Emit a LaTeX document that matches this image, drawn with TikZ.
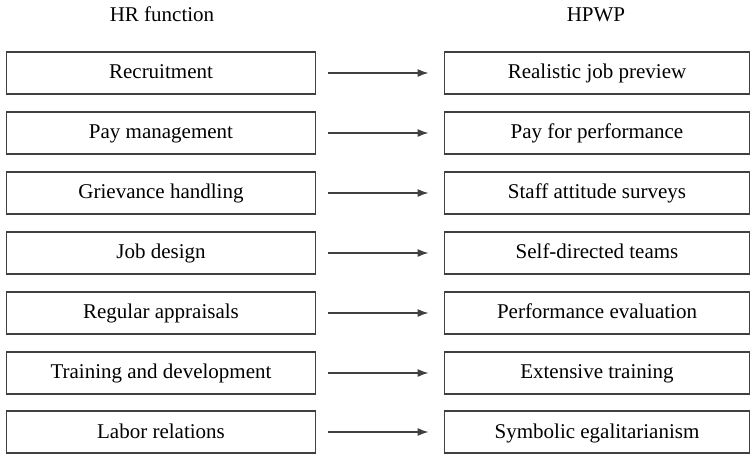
\documentclass[tikz,border=0pt]{standalone}
\usepackage{fontspec}
\setmainfont{Liberation Serif}
\usetikzlibrary{arrows.meta,positioning}

\begin{document}
\begin{tikzpicture}[x=1pt,y=-1pt,
  fun/.style={draw=black!75,line width=1.6pt,minimum width=309pt,minimum height=42pt,inner sep=0pt,
    text height=13.5pt,text depth=1.5pt,font=\fontsize{21}{24}\selectfont},
  prac/.style={fun,minimum width=305pt},
  head/.style={text height=13.5pt,text depth=1.5pt,font=\fontsize{21}{24}\selectfont},
  link/.style={-{Latex[length=11pt,width=8pt]},line width=1.7pt,draw=black!75,shorten <=11.5pt,shorten >=15pt}]
  \useasboundingbox (0,0) rectangle (750,454);

  \node[head] (hf) at (162,16) {HR function};
  \node[head] (hp) at (596,16) {HPWP};

  \node[fun] (f1) at (161,73) {Recruitment};
  \node[fun] (f2) at (161,133) {Pay management};
  \node[fun] (f3) at (161,193) {Grievance handling};
  \node[fun] (f4) at (161,253) {Job design};
  \node[fun] (f5) at (161,313) {Regular appraisals};
  \node[fun] (f6) at (161,373) {Training and development};
  \node[fun] (f7) at (161,432) {Labor relations};

  \node[prac] (p1) at (597,73) {Realistic job preview};
  \node[prac] (p2) at (597,133) {Pay for performance};
  \node[prac] (p3) at (597,193) {Staff attitude surveys};
  \node[prac] (p4) at (597,253) {Self-directed teams};
  \node[prac] (p5) at (597,313) {Performance evaluation};
  \node[prac] (p6) at (597,373) {Extensive training};
  \node[prac] (p7) at (597,432) {Symbolic egalitarianism};

  \draw[link] (f1) -- (p1);
  \draw[link] (f2) -- (p2);
  \draw[link] (f3) -- (p3);
  \draw[link] (f4) -- (p4);
  \draw[link] (f5) -- (p5);
  \draw[link] (f6) -- (p6);
  \draw[link] (f7) -- (p7);
\end{tikzpicture}
\end{document}
